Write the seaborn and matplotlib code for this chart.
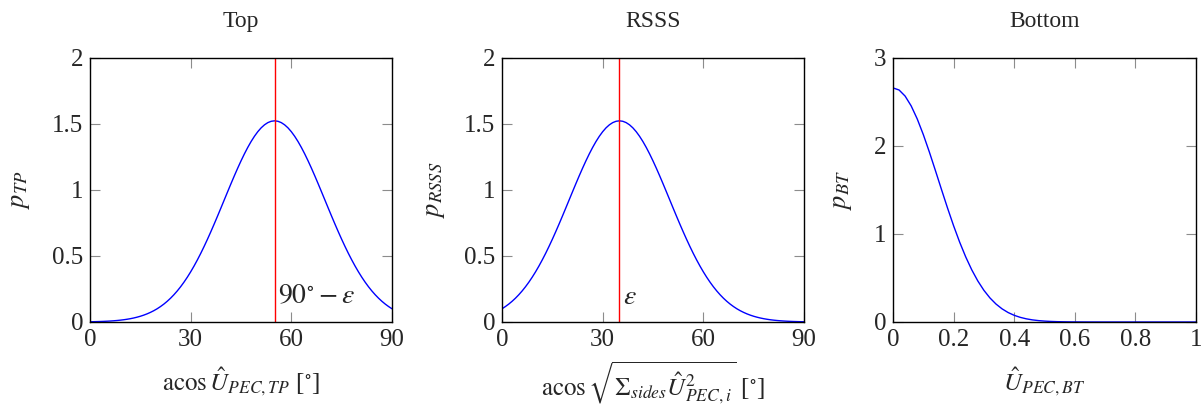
import matplotlib
matplotlib.use("Agg")
import matplotlib.pyplot as plt
import seaborn as sns
import pandas as pd
from matplotlib.ticker import FuncFormatter

# ---- data ----
angle_deg = list(range(0, 91))  # degrees, 1-degree steps
p_top = [0.0018, 0.0023, 0.0030, 0.0037, 0.0047, 0.0059, 0.0073, 0.0091, 0.0112, 0.0138,
         0.0169, 0.0206, 0.0250, 0.0302, 0.0364, 0.0435, 0.0519, 0.0616, 0.0728, 0.0855,
         0.1001, 0.1168, 0.1355, 0.1566, 0.1801, 0.2063, 0.2352, 0.2669, 0.3016, 0.3393,
         0.3800, 0.4237, 0.4704, 0.5198, 0.5720, 0.6265, 0.6833, 0.7418, 0.8018, 0.8628,
         0.9244, 0.9859, 1.0469, 1.1067, 1.1647, 1.2203, 1.2730, 1.3220, 1.3668, 1.4068,
         1.4416, 1.4708, 1.4938, 1.5105, 1.5206, 1.5240, 1.5206, 1.5105, 1.4938, 1.4708,
         1.4416, 1.4068, 1.3668, 1.3220, 1.2730, 1.2203, 1.1647, 1.1067, 1.0469, 0.9859,
         0.9244, 0.8628, 0.8018, 0.7418, 0.6833, 0.6265, 0.5720, 0.5198, 0.4704, 0.4237,
         0.3800, 0.3393, 0.3016, 0.2669, 0.2352, 0.2063, 0.1801, 0.1566, 0.1355, 0.1168,
         0.1001]
p_rsss = [0.1001, 0.1168, 0.1355, 0.1566, 0.1801, 0.2063, 0.2352, 0.2669, 0.3016, 0.3393,
          0.3800, 0.4237, 0.4704, 0.5198, 0.5720, 0.6265, 0.6833, 0.7418, 0.8018, 0.8628,
          0.9244, 0.9859, 1.0469, 1.1067, 1.1647, 1.2203, 1.2730, 1.3220, 1.3668, 1.4068,
          1.4416, 1.4708, 1.4938, 1.5105, 1.5206, 1.5240, 1.5206, 1.5105, 1.4938, 1.4708,
          1.4416, 1.4068, 1.3668, 1.3220, 1.2730, 1.2203, 1.1647, 1.1067, 1.0469, 0.9859,
          0.9244, 0.8628, 0.8018, 0.7418, 0.6833, 0.6265, 0.5720, 0.5198, 0.4704, 0.4237,
          0.3800, 0.3393, 0.3016, 0.2669, 0.2352, 0.2063, 0.1801, 0.1566, 0.1355, 0.1168,
          0.1001, 0.0855, 0.0728, 0.0616, 0.0519, 0.0435, 0.0364, 0.0302, 0.0250, 0.0206,
          0.0169, 0.0138, 0.0112, 0.0091, 0.0073, 0.0059, 0.0047, 0.0037, 0.0030, 0.0023,
          0.0018]
u_bt = [0.00, 0.02, 0.04, 0.06, 0.08, 0.10, 0.12, 0.14, 0.16, 0.18, 0.20, 0.22, 0.24,
        0.26, 0.28, 0.30, 0.32, 0.34, 0.36, 0.38, 0.40, 0.42, 0.44, 0.46, 0.48, 0.50,
        0.52, 0.54, 0.56, 0.58, 0.60, 0.65, 0.70, 0.80, 0.90, 1.00]
p_bt = [2.6600, 2.6365, 2.5671, 2.4555, 2.3074, 2.1300, 1.9316, 1.7208, 1.5060, 1.2948,
        1.0936, 0.9073, 0.7396, 0.5922, 0.4659, 0.3600, 0.2733, 0.2038, 0.1493, 0.1074,
        0.0760, 0.0528, 0.0360, 0.0241, 0.0159, 0.0103, 0.0065, 0.0041, 0.0025, 0.0015,
        0.0009, 0.0002, 0.0, 0.0, 0.0, 0.0]
marker_top = 55
marker_rsss = 35

titles = ["Top", "RSSS", "Bottom"]

sns.set_style("ticks")
plt.rcParams["font.family"] = ["Liberation Serif", "DejaVu Serif"]
plt.rcParams["mathtext.fontset"] = "stix"

W, H = 1201, 416
fig = plt.figure(figsize=(W / 100, H / 100), dpi=100)

def add_ax(x0, x1, y0, y1):
    return fig.add_axes([x0 / W, (H - y1) / H, (x1 - x0) / W, (y1 - y0) / H])

ax1 = add_ax(90, 392, 58, 322)
ax2 = add_ax(502, 804, 58, 322)
ax3 = add_ax(893, 1196, 58, 322)

fmt = FuncFormatter(lambda v, p: f"{v:g}")
TICK_FS = 18
LAB_FS = 18
TITLE_FS = 17

df1 = pd.DataFrame({"x": angle_deg, "y": p_top})
df2 = pd.DataFrame({"x": angle_deg, "y": p_rsss})
df3 = pd.DataFrame({"x": u_bt, "y": p_bt})

for ax, df in [(ax1, df1), (ax2, df2), (ax3, df3)]:
    sns.lineplot(data=df, x="x", y="y", ax=ax, color="blue", linewidth=1.0)

ax1.axvline(marker_top, color="red", linewidth=1.0)
ax2.axvline(marker_rsss, color="red", linewidth=1.0)
ax1.text(marker_top + 1.0, 0.14, r"$90^{\circ} - \varepsilon$", fontsize=20)
ax2.text(marker_rsss + 1.0, 0.14, r"$\varepsilon$", fontsize=20)

for ax in (ax1, ax2):
    ax.set_xlim(0, 90)
    ax.set_ylim(0, 2)
    ax.set_xticks([0, 30, 60, 90])
    ax.set_yticks([0, 0.5, 1, 1.5, 2])
ax3.set_xlim(0, 1)
ax3.set_ylim(0, 3)
ax3.set_xticks([0, 0.2, 0.4, 0.6, 0.8, 1])
ax3.set_yticks([0, 1, 2, 3])

ax1.set_xlabel(r"$\mathrm{acos}\,\hat{U}_{PEC,TP}$ [$^{\circ}$]", fontsize=LAB_FS, labelpad=10)
ax2.set_xlabel(r"$\mathrm{acos}\,\sqrt{\Sigma_{sides}\hat{U}^2_{PEC,i}}$ [$^{\circ}$]",
               fontsize=LAB_FS, labelpad=6)
ax3.set_xlabel(r"$\hat{U}_{PEC,BT}$", fontsize=LAB_FS, labelpad=10)
ax1.set_ylabel(r"$p_{TP}$", fontsize=19, labelpad=14)
ax2.set_ylabel(r"$p_{RSSS}$", fontsize=19, labelpad=12)
ax3.set_ylabel(r"$p_{BT}$", fontsize=19, labelpad=14)

for ax, t in zip((ax1, ax2, ax3), titles):
    ax.set_title(t, fontsize=TITLE_FS, pad=22)
    ax.xaxis.set_major_formatter(fmt)
    ax.yaxis.set_major_formatter(fmt)
    ax.tick_params(direction="in", length=7, width=0.8, color="#8c8c8c",
                   top=True, right=True, labelsize=TICK_FS, pad=5)
    for s in ax.spines.values():
        s.set_visible(True)
        s.set_linewidth(1.0)
        s.set_color("black")

fig.savefig("out.png", dpi=100)
